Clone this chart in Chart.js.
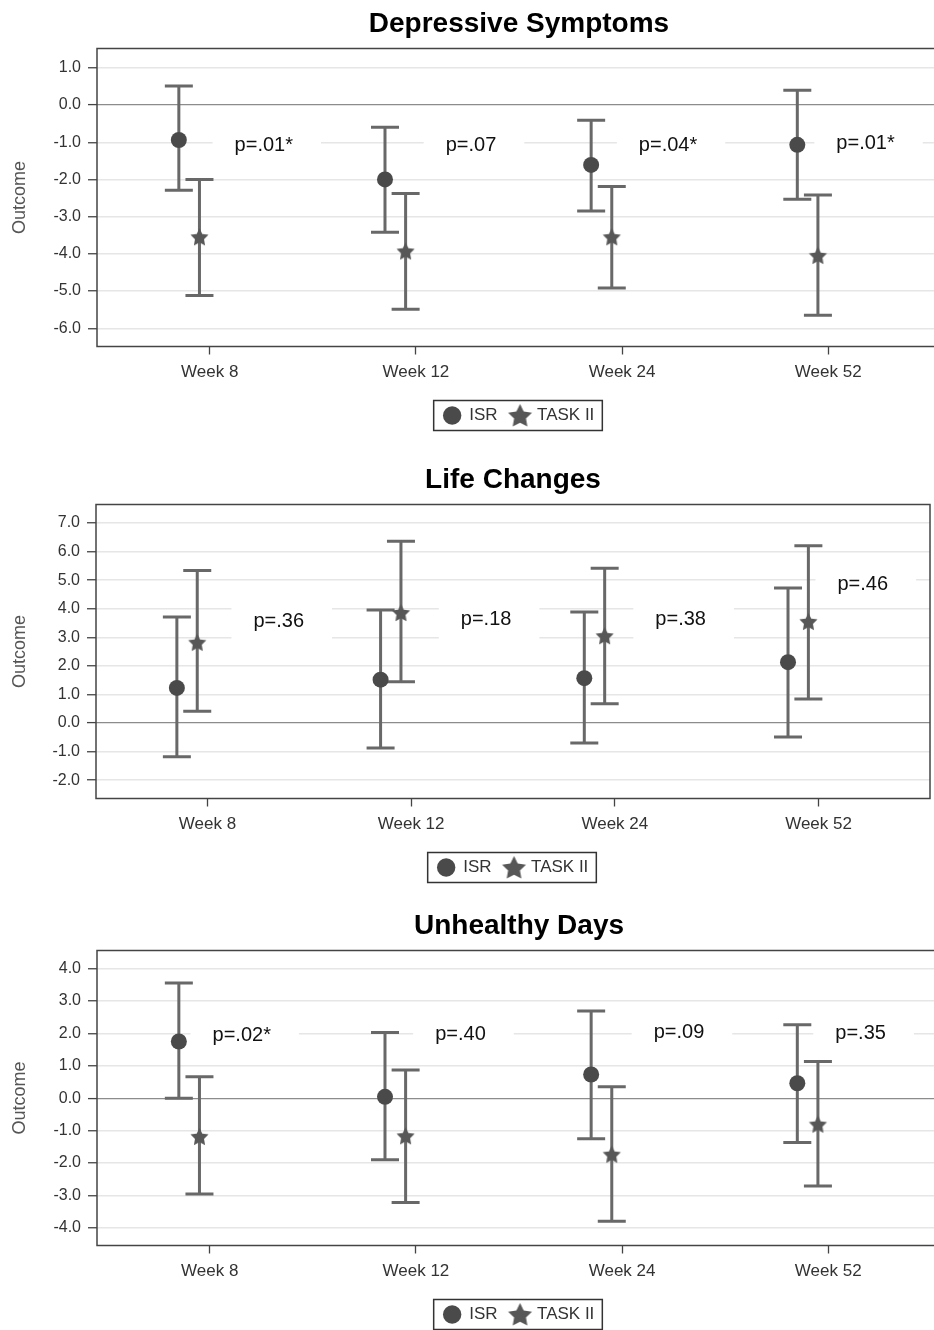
<!DOCTYPE html>
<html>
<head>
<meta charset="utf-8">
<script src="https://cdn.jsdelivr.net/npm/chart.js@4.4.1/dist/chart.umd.min.js"></script>
<style>
  html, body { margin: 0; padding: 0; background: #fff; width: 934px; height: 1330px; overflow: hidden; }
  .panel { position: absolute; left: 0; }
  canvas { display: block; }
</style>
</head>
<body>
<div class="panel" style="top:0px"><canvas id="dep" width="941" height="434"></canvas></div>
<div class="panel" style="top:456px"><canvas id="life" width="934" height="430"></canvas></div>
<div class="panel" style="top:902px"><canvas id="days" width="941" height="431"></canvas></div>
<script>
const weeks = ['Week 8', 'Week 12', 'Week 24', 'Week 52'];
const seriesNames = ['ISR', 'TASK II'];

// Depressive Symptoms
const depIsrMean = [-0.94, -2.00, -1.61, -1.07];
const depIsrLow = [-2.29, -3.42, -2.85, -2.53];
const depIsrHigh = [0.51, -0.60, -0.41, 0.40];
const depTaskMean = [-3.54, -3.92, -3.54, -4.04];
const depTaskLow = [-5.12, -5.49, -4.92, -5.65];
const depTaskHigh = [-2.00, -2.38, -2.19, -2.42];
const depP = ['p=.01*', 'p=.07', 'p=.04*', 'p=.01*'];

// Life Changes
const lifeIsrMean = [1.23, 1.52, 1.57, 2.13];
const lifeIsrLow = [-1.18, -0.87, -0.70, -0.49];
const lifeIsrHigh = [3.71, 3.96, 3.89, 4.73];
const lifeTaskMean = [2.83, 3.87, 3.06, 3.56];
const lifeTaskLow = [0.41, 1.45, 0.68, 0.84];
const lifeTaskHigh = [5.34, 6.36, 5.42, 6.21];
const lifeP = ['p=.36', 'p=.18', 'p=.38', 'p=.46'];

// Unhealthy Days
const daysIsrMean = [1.75, 0.04, 0.73, 0.46];
const daysIsrLow = [0.00, -1.90, -1.25, -1.37];
const daysIsrHigh = [3.56, 2.03, 2.69, 2.27];
const daysTaskMean = [-1.18, -1.16, -1.73, -0.80];
const daysTaskLow = [-2.96, -3.22, -3.80, -2.71];
const daysTaskHigh = [0.66, 0.87, 0.35, 1.13];
const daysP = ['p=.02*', 'p=.40', 'p=.09', 'p=.35'];

// where the p-value text sits, in axis units
const depPX = [1.262, 2.267, 3.223, 4.181];
const depPY = [-1.10, -1.10, -1.08, -1.03];
const lifePX = [1.350, 2.368, 3.323, 4.217];
const lifePY = [3.56, 3.64, 3.61, 4.85];
const daysPX = [1.155, 2.216, 3.276, 4.157];
const daysPY = [1.95, 1.98, 2.03, 2.00];

const ISR_SHIFT = -0.15;
const TASK_SHIFT = -0.05;

Chart.defaults.font.family = '"Liberation Sans", Arial, sans-serif';

function makeStar(r, color) {
    const c = document.createElement('canvas');
    const s = Math.ceil(r * 2 + 2);
    c.width = s;
    c.height = s;
    const g = c.getContext('2d');
    g.fillStyle = color;
    g.beginPath();
    for (let k = 0; k < 10; k++) {
        const rad = k % 2 == 0 ? r : r * 0.5;
        const a = -Math.PI / 2 + k * Math.PI / 5;
        g.lineTo(s / 2 + rad * Math.cos(a), s / 2 + 1 + rad * Math.sin(a));
    }
    g.closePath();
    g.fill();
    return c;
}

const pointStar = makeStar(9.5, '#575757');
const legendStar = makeStar(12.5, '#575757');

const errorBars = {
    id: 'errorBars',
    beforeDatasetsDraw(chart, args, opts) {
        const ctx = chart.ctx;
        const x = chart.scales.x;
        const y = chart.scales.y;
        ctx.save();
        ctx.font = '20px "Liberation Sans", Arial, sans-serif';
        ctx.textAlign = 'center';
        ctx.textBaseline = 'middle';
        opts.pText.forEach((t, i) => {
            const px = x.getPixelForValue(opts.pX[i]);
            const py = y.getPixelForValue(opts.pY[i]);
            const w = ctx.measureText(t).width + 50;
            ctx.fillStyle = '#fff';
            ctx.fillRect(px - w / 2 + 3, py - 20, w, 40);
            ctx.fillStyle = '#111';
            ctx.fillText(t, px, py);
        });
        ctx.strokeStyle = '#686868';
        ctx.lineWidth = 3;
        opts.bars.forEach(b => {
            b.low.forEach((lo, i) => {
                const px = x.getPixelForValue(i + 1 + b.shift);
                const y0 = y.getPixelForValue(lo);
                const y1 = y.getPixelForValue(b.high[i]);
                ctx.beginPath();
                ctx.moveTo(px, y0);
                ctx.lineTo(px, y1);
                ctx.moveTo(px - 14, y0);
                ctx.lineTo(px + 14, y0);
                ctx.moveTo(px - 14, y1);
                ctx.lineTo(px + 14, y1);
                ctx.stroke();
            });
        });
        ctx.restore();
    },
    afterDraw(chart) {
        const ctx = chart.ctx;
        const a = chart.chartArea;
        ctx.save();
        ctx.strokeStyle = '#444';
        ctx.lineWidth = 1.5;
        ctx.strokeRect(a.left, a.top, a.right - a.left, a.bottom - a.top);
        // frame round the legend
        const hb = chart.legend.legendHitBoxes;
        if (hb && hb.length) {
            const last = hb[hb.length - 1];
            const left = hb[0].left - 10;
            const right = last.left + last.width + 8;
            const cy = hb[0].top + hb[0].height / 2;
            ctx.strokeStyle = '#333';
            ctx.strokeRect(left, cy - 15, right - left, 30);
        }
        ctx.restore();
    }
};

function makePanel(id, title, d) {
    const ctx = document.getElementById(id).getContext('2d');
    return new Chart(ctx, {
        type: 'scatter',
        data: {
            datasets: [{
                label: seriesNames[0],
                data: d.isrMean.map((v, i) => ({ x: i + 1 + ISR_SHIFT, y: v })),
                pointStyle: 'circle',
                pointRadius: 8,
                backgroundColor: '#4a4a4a',
                borderWidth: 0
            }, {
                label: seriesNames[1],
                data: d.taskMean.map((v, i) => ({ x: i + 1 + TASK_SHIFT, y: v })),
                pointStyle: pointStar,
                pointRadius: 9,
                backgroundColor: '#575757',
                borderWidth: 0
            }]
        },
        options: {
            responsive: false,
            animation: false,
            layout: { autoPadding: false, padding: { left: 0, right: d.padRight, top: 0, bottom: 0 } },
            scales: {
                x: {
                    type: 'linear',
                    min: 0.453,
                    max: 4.547,
                    afterFit: s => { s.height = 46.5 },
                    afterBuildTicks: s => { s.ticks = weeks.map((w, i) => ({ value: i + 1 })) },
                    border: { display: false },
                    grid: { drawOnChartArea: false, drawTicks: true, tickLength: 8, tickColor: '#444', tickWidth: 1.3 },
                    ticks: {
                        padding: 7.5,
                        color: '#333',
                        font: { size: 17 },
                        maxRotation: 0,
                        autoSkip: false,
                        callback: v => weeks[Math.round(v) - 1]
                    }
                },
                y: {
                    min: d.yMin,
                    max: d.yMax,
                    afterFit: s => { s.width = d.plotLeft },
                    afterBuildTicks: s => {
                        const t = [];
                        for (let v = Math.ceil(s.min); v <= Math.floor(s.max); v++) t.push({ value: v });
                        s.ticks = t;
                    },
                    border: { display: false },
                    grid: {
                        color: c => c.tick && c.tick.value == 0 ? '#8c8c8c' : '#e6e6e6',
                        lineWidth: c => c.tick && c.tick.value == 0 ? 1.2 : 1.5,
                        tickLength: 9,
                        tickColor: '#444',
                        tickWidth: 1.3
                    },
                    ticks: {
                        padding: 7,
                        color: '#333',
                        font: { size: 16 },
                        callback: v => Number(v).toFixed(1)
                    },
                    title: {
                        display: true,
                        text: 'Outcome',
                        color: '#555',
                        font: { size: 18 },
                        padding: { top: 9, bottom: 0 }
                    }
                }
            },
            plugins: {
                title: {
                    display: true,
                    text: title,
                    color: '#000',
                    fullSize: false,
                    font: { size: 28, weight: 'bold' },
                    padding: { top: 7.7, bottom: 7.2 }
                },
                legend: {
                    position: 'bottom',
                    fullSize: false,
                    labels: {
                        usePointStyle: true,
                        boxWidth: 17,
                        boxHeight: 13,
                        padding: 14,
                        color: '#333',
                        font: { size: 17 },
                        generateLabels: chart => chart.data.datasets.map((ds, i) => ({
                            text: ds.label,
                            fillStyle: ds.backgroundColor,
                            strokeStyle: ds.backgroundColor,
                            lineWidth: 0,
                            pointStyle: i == 1 ? legendStar : 'circle',
                            datasetIndex: i,
                            hidden: false,
                            fontColor: '#333'
                        }))
                    }
                },
                tooltip: { enabled: false },
                errorBars: {
                    pText: d.pText,
                    pX: d.pX,
                    pY: d.pY,
                    bars: [
                        { shift: ISR_SHIFT, low: d.isrLow, high: d.isrHigh },
                        { shift: TASK_SHIFT, low: d.taskLow, high: d.taskHigh }
                    ]
                }
            }
        },
        plugins: [errorBars]
    });
}

makePanel('dep', 'Depressive Symptoms', {
    isrMean: depIsrMean, isrLow: depIsrLow, isrHigh: depIsrHigh,
    taskMean: depTaskMean, taskLow: depTaskLow, taskHigh: depTaskHigh,
    pText: depP, pX: depPX, pY: depPY,
    yMin: -6.49, yMax: 1.52, plotLeft: 97, padRight: 0
});

makePanel('life', 'Life Changes', {
    isrMean: lifeIsrMean, isrLow: lifeIsrLow, isrHigh: lifeIsrHigh,
    taskMean: lifeTaskMean, taskLow: lifeTaskLow, taskHigh: lifeTaskHigh,
    pText: lifeP, pX: lifePX, pY: lifePY,
    yMin: -2.64, yMax: 7.65, plotLeft: 96, padRight: 4
});

makePanel('days', 'Unhealthy Days', {
    isrMean: daysIsrMean, isrLow: daysIsrLow, isrHigh: daysIsrHigh,
    taskMean: daysTaskMean, taskLow: daysTaskLow, taskHigh: daysTaskHigh,
    pText: daysP, pX: daysPX, pY: daysPY,
    yMin: -4.55, yMax: 4.56, plotLeft: 97, padRight: 0
});
</script>
</body>
</html>
